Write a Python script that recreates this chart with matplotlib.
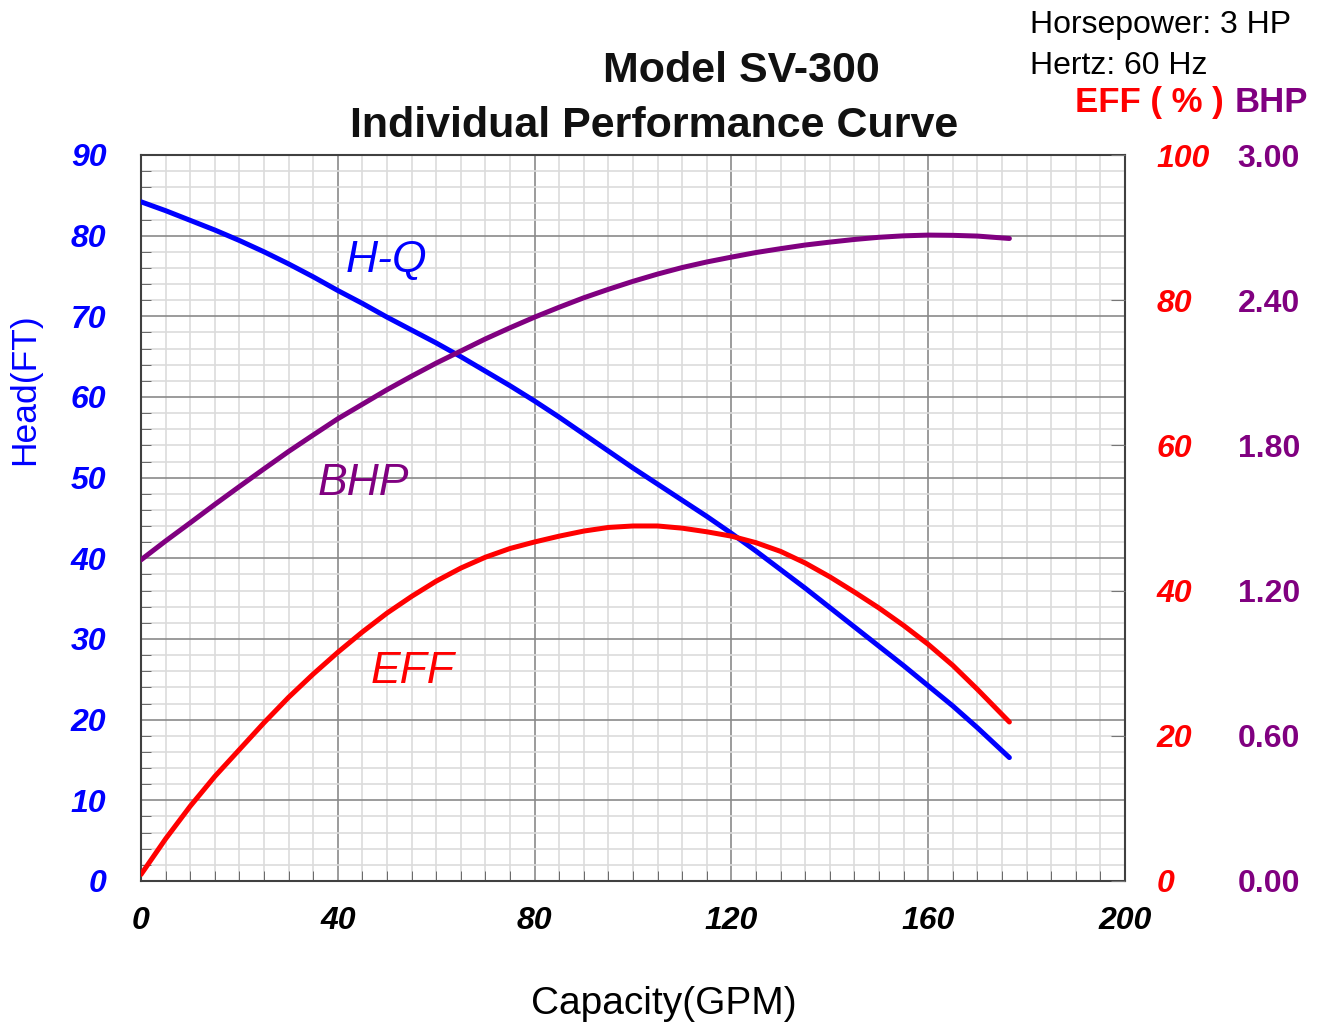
import numpy as np
import matplotlib
matplotlib.use('Agg')
import matplotlib.pyplot as plt
from matplotlib.ticker import MultipleLocator, FixedLocator

plt.rcParams['font.family'] = ['Liberation Sans', 'DejaVu Sans']

# capacity (GPM)
flow = [0, 5, 10, 15, 20, 25, 30, 35, 40, 45, 50, 55, 60, 65, 70, 75, 80, 85, 90, 95,
        100, 105, 110, 115, 120, 125, 130, 135, 140, 145, 150, 155, 160, 165, 170, 176.5]
# head (ft)
head = [84.2, 83.1, 81.9, 80.7, 79.4, 78.0, 76.5, 74.9, 73.2, 71.6, 69.9, 68.3, 66.7,
        65.0, 63.2, 61.4, 59.5, 57.5, 55.4, 53.3, 51.2, 49.2, 47.2, 45.2, 43.1, 40.9,
        38.6, 36.3, 33.9, 31.5, 29.1, 26.7, 24.2, 21.7, 19.0, 15.3]
# brake horsepower
bhp = [1.327, 1.405, 1.48, 1.556, 1.63, 1.703, 1.775, 1.843, 1.91, 1.97, 2.03, 2.086,
       2.14, 2.19, 2.24, 2.286, 2.33, 2.371, 2.41, 2.445, 2.478, 2.508, 2.535, 2.558,
       2.578, 2.597, 2.613, 2.628, 2.64, 2.651, 2.66, 2.666, 2.669, 2.668, 2.665, 2.655]
# efficiency (%)
eff = [0.9, 5.8, 10.3, 14.4, 18.1, 21.8, 25.3, 28.5, 31.5, 34.3, 36.9, 39.2, 41.3,
       43.1, 44.6, 45.8, 46.7, 47.5, 48.2, 48.7, 48.9, 48.9, 48.6, 48.1, 47.5, 46.6,
       45.4, 43.8, 41.9, 39.8, 37.6, 35.2, 32.6, 29.7, 26.4, 21.9]

head_ticks = [0, 10, 20, 30, 40, 50, 60, 70, 80, 90]
eff_ticks = [0, 20, 40, 60, 80, 100]
bhp_ticks = [0.0, 0.6, 1.2, 1.8, 2.4, 3.0]
x_ticks = [0, 40, 80, 120, 160, 200]

BLUE = '#0000ff'
RED = '#ff0000'
PURPLE = '#800080'

fig = plt.figure(figsize=(13.23, 10.29), dpi=100)
ax = fig.add_axes([141 / 1323, 1 - 881 / 1029, (1125 - 141) / 1323, (881 - 155) / 1029])

ax.set_xlim(0, 200)
ax.set_ylim(0, 90)
ax.xaxis.set_major_locator(FixedLocator(x_ticks))
ax.xaxis.set_minor_locator(MultipleLocator(5))
ax.yaxis.set_major_locator(FixedLocator(head_ticks))
ax.yaxis.set_minor_locator(MultipleLocator(2))
ax.grid(which='minor', color='#dcdcdc', lw=1.2)
ax.grid(which='major', color='#8a8a8a', lw=1.2)
ax.set_axisbelow(True)
ax.tick_params(axis='both', which='both', direction='in', color='#555555')
ax.tick_params(axis='y', which='minor', length=7)
ax.tick_params(axis='x', which='minor', length=7)
ax.tick_params(axis='y', which='major', length=0, pad=25)
ax.tick_params(axis='x', which='major', length=0, pad=18)
for s in ax.spines.values():
    s.set_color('#404040')
    s.set_linewidth(1.5)

tick_font = dict(fontsize=23, fontweight='bold', fontstyle='italic')
ax.set_xticklabels([str(t) for t in x_ticks], color='black', **tick_font)
ax.set_yticklabels([str(t) for t in head_ticks], color=BLUE, **tick_font)

ax.plot(flow, head, color=BLUE, lw=3.6, solid_capstyle='round', zorder=3)

# efficiency axis
ax2 = ax.twinx()
ax2.set_ylim(0, 100)
ax2.yaxis.set_major_locator(FixedLocator(eff_ticks))
ax2.set_yticklabels([str(t) for t in eff_ticks], color=RED, **tick_font)
ax2.tick_params(axis='y', direction='in', length=10, color='#777777', pad=23)
ax2.plot(flow, eff, color=RED, lw=3.6, solid_capstyle='round', zorder=3)
for s in ax2.spines.values():
    s.set_visible(False)

# bhp axis
ax3 = ax.twinx()
ax3.set_ylim(0, 3)
ax3.yaxis.set_major_locator(FixedLocator(bhp_ticks))
ax3.set_yticklabels(['%.2f' % t for t in bhp_ticks], color=PURPLE, fontsize=23, fontweight='bold')
ax3.tick_params(axis='y', length=0, pad=81)
ax3.plot(flow, bhp, color=PURPLE, lw=3.6, solid_capstyle='round', zorder=3)
for s in ax3.spines.values():
    s.set_visible(False)

# curve labels
ax.text(41.5, 75.5, 'H-Q', color=BLUE, fontsize=32, fontstyle='italic')
ax.text(36, 47.8, 'BHP', color=PURPLE, fontsize=32, fontstyle='italic')
ax.text(46.7, 24.5, 'EFF', color=RED, fontsize=32, fontstyle='italic')

# titles and notes
fig.text(741 / 1323, 1 - 82 / 1029, 'Model SV-300', ha='center', va='baseline',
         fontsize=31, fontweight='bold', color='#111111')
fig.text(654 / 1323, 1 - 137 / 1029, 'Individual Performance Curve', ha='center', va='baseline',
         fontsize=31, fontweight='bold', color='#111111')
fig.text(1030 / 1323, 1 - 33 / 1029, 'Horsepower: 3 HP', fontsize=23, va='baseline')
fig.text(1030 / 1323, 1 - 74 / 1029, 'Hertz: 60 Hz', fontsize=23, va='baseline')
fig.text(1075 / 1323, 1 - 112 / 1029, 'EFF ( % )', fontsize=25, fontweight='bold',
         color=RED, va='baseline')
fig.text(1235 / 1323, 1 - 112 / 1029, 'BHP', fontsize=25, fontweight='bold',
         color=PURPLE, va='baseline')

fig.text(25 / 1323, 1 - 389 / 1029, 'Head(FT)', rotation=90, ha='center', va='center',
         fontsize=25.5, color=BLUE)
fig.text(664 / 1323, 1 - 1004 / 1029, 'Capacity(GPM)', ha='center', va='center', fontsize=28)

fig.savefig('out.png', dpi=100, facecolor='white')
